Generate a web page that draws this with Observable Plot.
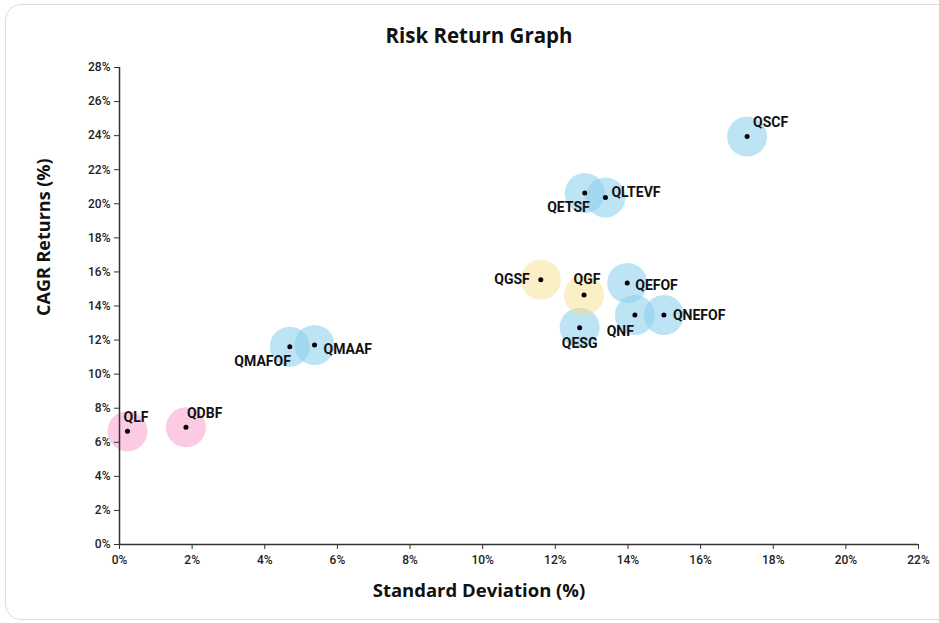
<!DOCTYPE html>
<html>
<head>
<meta charset="utf-8">
<script src="https://cdn.jsdelivr.net/npm/d3@7"></script>
<script src="https://cdn.jsdelivr.net/npm/@observablehq/plot@0.6"></script>
<style>
  html, body { margin: 0; padding: 0; background: #fff; overflow: hidden; }
  #wrap { position: relative; width: 939px; height: 623px; }
  #card { position: absolute; left: 5px; top: 4px; width: 960px; height: 616px;
          border: 1.5px solid #dddddd; border-radius: 16px; box-sizing: border-box; }
  #chart { position: absolute; left: 0; top: 0; }
</style>
</head>
<body>
<div id="wrap"><div id="card"></div><div id="chart"></div></div>
<script>
// Data
const funds   = ["QLF", "QDBF", "QMAFOF", "QMAAF", "QETSF", "QLTEVF", "QGSF", "QGF", "QEFOF", "QNF", "QNEFOF", "QESG", "QSCF"];
const stdDev  = [0.22, 1.83, 4.69, 5.37, 12.81, 13.38, 11.60, 12.79, 13.98, 14.19, 14.99, 12.67, 17.28];
const cagr    = [6.65, 6.88, 11.61, 11.71, 20.63, 20.37, 15.54, 14.64, 15.35, 13.47, 13.47, 12.73, 23.95];
const groups  = ["debt", "debt", "hybrid", "hybrid", "hybrid", "hybrid", "gold", "gold", "hybrid", "hybrid", "hybrid", "hybrid", "hybrid"];
const xTicks  = [0, 2, 4, 6, 8, 10, 12, 14, 16, 18, 20, 22];
const yTicks  = [0, 2, 4, 6, 8, 10, 12, 14, 16, 18, 20, 22, 24, 26, 28];

const groupFill = { debt: "#f48cc0", hybrid: "#87ceeb", gold: "#f7dc80" };
const groupOpacity = { debt: 0.45, hybrid: 0.55, gold: 0.45 };

// label placement: [textAnchor, dx, dy]
const labelPlace = {
  QLF: ["start", -4, -14], QDBF: ["start", 1, -14], QMAFOF: ["end", 1, 15], QMAAF: ["start", 9, 5],
  QETSF: ["end", 5, 14], QLTEVF: ["start", 6, -5], QGSF: ["end", -11, 0], QGF: ["middle", 3, -16],
  QEFOF: ["start", 8, 3], QNF: ["end", -1, 16], QNEFOF: ["start", 9, 0], QESG: ["middle", 0, 16],
  QSCF: ["start", 6, -14]
};

const data = funds.map((f, i) => ({ name: f, x: stdDev[i], y: cagr[i], g: groups[i] }));

const labelMarks = data.map(d => {
  const [a, dx, dy] = labelPlace[d.name];
  return Plot.text([d], { x: "x", y: "y", text: "name", textAnchor: a, dx, dy,
    fontSize: 14, fontWeight: "bold", fill: "#111", fontFamily: "Roboto" });
});

const chart = Plot.plot({
  width: 939,
  height: 623,
  marginLeft: 119,
  marginRight: 21,
  marginTop: 67,
  marginBottom: 79,
  style: { fontFamily: "Roboto", background: "transparent", overflow: "visible" },
  x: { domain: [0, 22] },
  y: { domain: [0, 28] },
  marks: [
    ...["debt", "hybrid", "gold"].map(g => Plot.dot(data.filter(d => d.g === g), {
      x: "x", y: "y", r: 20, fill: groupFill[g], fillOpacity: groupOpacity[g], stroke: "none"
    })),
    Plot.dot(data, { x: "x", y: "y", r: 2.5, fill: "#000", stroke: "none" }),
    ...labelMarks,
    Plot.axisX({ ticks: xTicks, tickFormat: d => d + "%", tickSize: 5, tickPadding: 6,
      fontSize: 12, fontWeight: 500, fill: "#222", stroke: "#333", label: null }),
    Plot.axisY({ ticks: yTicks, tickFormat: d => d + "%", tickSize: 5, tickPadding: 4,
      fontSize: 12, fontWeight: 500, fill: "#222", stroke: "#333", label: null }),
    Plot.ruleY([0], { stroke: "#333", strokeWidth: 1.5 }),
    Plot.ruleX([0], { stroke: "#333", strokeWidth: 1.5 }),
    Plot.text(["Risk Return Graph"], { frameAnchor: "top", dx: -40, dy: -31, fontSize: 20.5,
      fontWeight: "bold", fontFamily: "Open Sans", fill: "#111", lineAnchor: "middle" }),
    Plot.text(["Standard Deviation (%)"], { frameAnchor: "bottom", dx: -40, dy: 47, fontSize: 18.5,
      fontWeight: "bold", fontFamily: "Open Sans", fill: "#111", lineAnchor: "middle" }),
    Plot.text(["CAGR Returns (%)"], { frameAnchor: "left", dx: -75, dy: 10, rotate: -90, fontSize: 18,
      fontWeight: "bold", fontFamily: "Open Sans", fill: "#111", lineAnchor: "middle" })
  ]
});
document.getElementById("chart").appendChild(chart);
</script>
</body>
</html>
